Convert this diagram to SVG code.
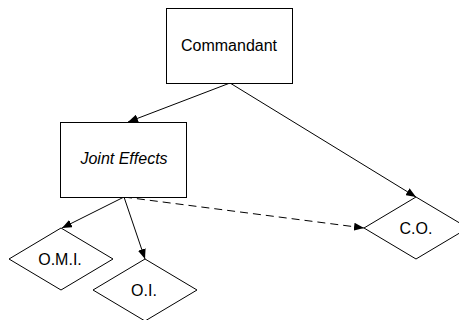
<svg xmlns="http://www.w3.org/2000/svg" width="459" height="320" viewBox="0 0 459 320">
  <style>
    .box { fill: #ffffff; stroke: #000000; stroke-width: 1; }
    .lbl { font-family: "Liberation Sans", Arial, sans-serif; font-size: 16px; fill: #000000; text-anchor: middle; }
    .it { font-style: italic; }
    .edge { fill: none; stroke: #000000; stroke-width: 1; }
    .dash { stroke-dasharray: 8 5; }
  </style>
  <defs>
    <marker id="arrow" viewBox="0 0 10 8" refX="10" refY="4" markerWidth="10" markerHeight="8" markerUnits="userSpaceOnUse" orient="auto">
      <path d="M0,0 L10,4 L0,8 Z" fill="#000000"/>
    </marker>
  </defs>
  <rect width="459" height="320" fill="#ffffff"/>

  <g id="connectors">
    <line class="edge" x1="230" y1="83" x2="128" y2="122" marker-end="url(#arrow)"/>
    <line class="edge" x1="230" y1="83" x2="416" y2="197" marker-end="url(#arrow)"/>
    <line class="edge" x1="124" y1="197" x2="62" y2="228" marker-end="url(#arrow)"/>
    <line class="edge" x1="124" y1="197" x2="145" y2="259" marker-end="url(#arrow)"/>
    <line class="edge dash" x1="124" y1="197" x2="364" y2="228" marker-end="url(#arrow)"/>
  </g>

  <g id="commandant">
    <rect class="box" x="166.5" y="8.5" width="126" height="75"/>
    <text class="lbl" x="229" y="51" font-size="17">Commandant</text>
  </g>

  <g id="joint-effects">
    <rect class="box" x="60.5" y="122.5" width="126" height="75"/>
    <text class="lbl it" x="124" y="164" font-size="17">Joint Effects</text>
  </g>

  <g id="omi">
    <polygon class="box" points="61,228 113,259 61,290 9,259"/>
    <text class="lbl" x="60" y="265">O.M.I.</text>
  </g>

  <g id="oi">
    <polygon class="box" points="145,259 197,290 145,321 93,290"/>
    <text class="lbl" x="144" y="296">O.I.</text>
  </g>

  <g id="co">
    <polygon class="box" points="416,197 468,228 416,259 364,228"/>
    <text class="lbl" x="416" y="234">C.O.</text>
  </g>
</svg>
